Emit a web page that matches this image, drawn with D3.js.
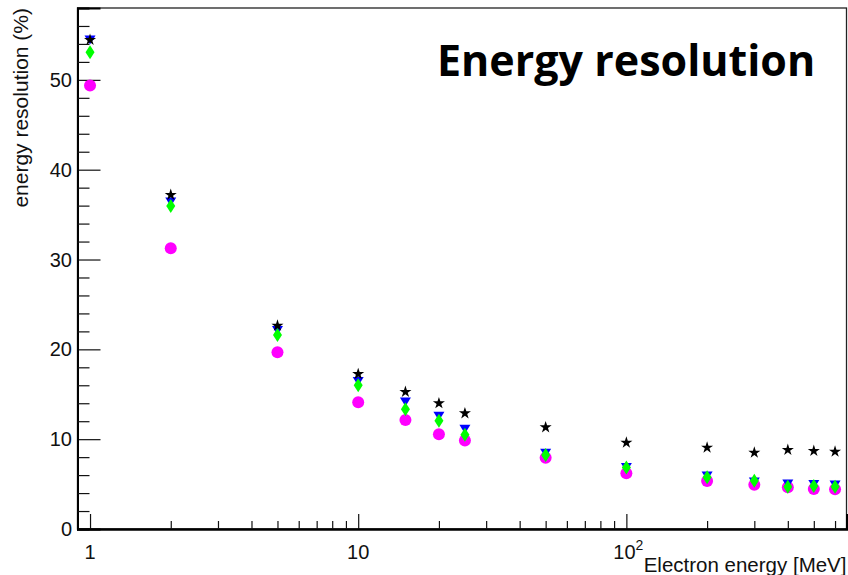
<!DOCTYPE html>
<html>
<head>
<meta charset="utf-8">
<script src="https://cdn.jsdelivr.net/npm/d3@7"></script>
<style>
  body { margin: 0; background: #fff; }
  text { font-family: "Liberation Sans", Arial, sans-serif; }
</style>
</head>
<body>
<div id="vis-container"></div>
<script>
// beam energies (MeV)
var energies = [1, 2, 5, 10, 15, 20, 25, 50, 100, 200, 300, 400, 500, 600];

// resolution (%) for each marker set
var magentaRes = [49.37, 31.26, 19.68, 14.1, 12.14, 10.56, 9.84, 7.94, 6.2, 5.35, 4.92, 4.64, 4.45, 4.42];
var blueRes    = [54.5, 36.45, 22.16, 16.48, 14.18, 12.62, 11.15, 8.5, 6.9, 5.96, 5.3, 5.07, 5.0, 4.96];
var greenRes   = [53.08, 35.97, 21.6, 16.0, 13.33, 12.06, 10.5, 8.24, 6.85, 5.76, 5.38, 4.71, 4.79, 4.71];
var blackRes   = [54.45, 37.19, 22.64, 17.26, 15.26, 14.0, 12.88, 11.32, 9.61, 9.06, 8.5, 8.8, 8.69, 8.61];

var yMajor = [0, 10, 20, 30, 40, 50];
var yMinor = d3.range(2, 58, 2).filter(function (v) { return v % 10 != 0; });
var xMajor = [1, 10, 100];
var xMinor = [2, 3, 4, 5, 6, 7, 8, 9, 20, 30, 40, 50, 60, 70, 80, 90, 200, 300, 400, 500, 600];

var width = 848, height = 575;
var padLeft = 77.5, padRight = 846.5, padTop = 8, padBottom = 529;

var svg = d3.select("#vis-container").append("svg")
  .attr("width", width).attr("height", height);

var x = d3.scaleLog().domain([0.898, 662]).range([padLeft, padRight]);
var y = d3.scaleLinear().domain([0, 58]).range([padBottom, padTop]);

// frame
svg.append("rect")
  .attr("x", padLeft).attr("y", padTop)
  .attr("width", padRight - padLeft).attr("height", padBottom - padTop)
  .attr("fill", "none").attr("stroke", "#222").attr("stroke-width", 1.3);

// y axis ticks (inside)
var yAxis = svg.append("g").attr("transform", "translate(" + padLeft + ",0)");
yAxis.call(d3.axisLeft(y).tickValues(yMajor).tickSize(-23).tickFormat(""));
yAxis.append("g").call(d3.axisLeft(y).tickValues(yMinor).tickSize(-12).tickFormat(""));
yAxis.selectAll(".domain").attr("stroke-width", 2);
yAxis.selectAll(".tick line").attr("stroke", "#111").attr("stroke-width", 1.2);

svg.selectAll(".ylab").data(yMajor).enter().append("text")
  .attr("x", 72).attr("y", function (d) { return y(d) + 7; })
  .attr("text-anchor", "end").attr("font-size", 20).attr("fill", "#111")
  .text(function (d) { return d; });

// x axis ticks (inside)
var xAxis = svg.append("g").attr("transform", "translate(0," + padBottom + ")");
xAxis.call(d3.axisBottom(x).tickValues(xMajor).tickSize(-15).tickFormat(""));
xAxis.append("g").call(d3.axisBottom(x).tickValues(xMinor).tickSize(-8).tickFormat(""));
xAxis.selectAll(".domain").attr("stroke-width", 2);
xAxis.selectAll(".tick line").attr("stroke", "#111").attr("stroke-width", 1.2);

svg.append("text").attr("x", x(1)).attr("y", 559).attr("text-anchor", "middle")
  .attr("font-size", 20).attr("fill", "#111").text("1");
svg.append("text").attr("x", x(10)).attr("y", 559).attr("text-anchor", "middle")
  .attr("font-size", 20).attr("fill", "#111").text("10");
var t100 = svg.append("text").attr("x", x(100) - 13).attr("y", 559)
  .attr("font-size", 20).attr("fill", "#111");
t100.append("tspan").text("10");
t100.append("tspan").attr("dy", -9).attr("font-size", 14).text("2");

// axis titles
svg.append("text").attr("x", padRight).attr("y", 572).attr("text-anchor", "end")
  .attr("font-size", 20.5).attr("fill", "#111").text("Electron energy [MeV]");
svg.append("text")
  .attr("transform", "translate(28," + padTop + ") rotate(-90)")
  .attr("text-anchor", "end").attr("font-size", 21).attr("fill", "#111")
  .text("energy resolution (%)");

// big title
svg.append("text").attr("x", 437).attr("y", 76)
  .style("font-family", "'Open Sans', sans-serif").style("font-weight", "bold")
  .attr("font-size", 43).attr("fill", "#000").text("Energy resolution");

// markers
function pts(vals) {
  return energies.map(function (e, i) { return { e: e, v: vals[i] }; });
}
function pos(d) { return "translate(" + x(d.e) + "," + y(d.v) + ")"; }

svg.append("g").selectAll("circle").data(pts(magentaRes)).enter().append("circle")
  .attr("cx", function (d) { return x(d.e); })
  .attr("cy", function (d) { return y(d.v); })
  .attr("r", 6).attr("fill", "#ff00ff");

svg.append("g").selectAll("path").data(pts(blueRes)).enter().append("path")
  .attr("d", "M-5.5,-4L5.5,-4L0,5Z")
  .attr("transform", pos).attr("fill", "#0000ff");

svg.append("g").selectAll("path").data(pts(greenRes)).enter().append("path")
  .attr("d", "M0,-7L4.5,0L0,7L-4.5,0Z")
  .attr("transform", pos).attr("fill", "#00ff00");

svg.append("g").selectAll("path").data(pts(blackRes)).enter().append("path")
  .attr("d", d3.symbol().type(d3.symbolStar).size(45))
  .attr("transform", pos).attr("fill", "#000");
</script>
</body>
</html>
